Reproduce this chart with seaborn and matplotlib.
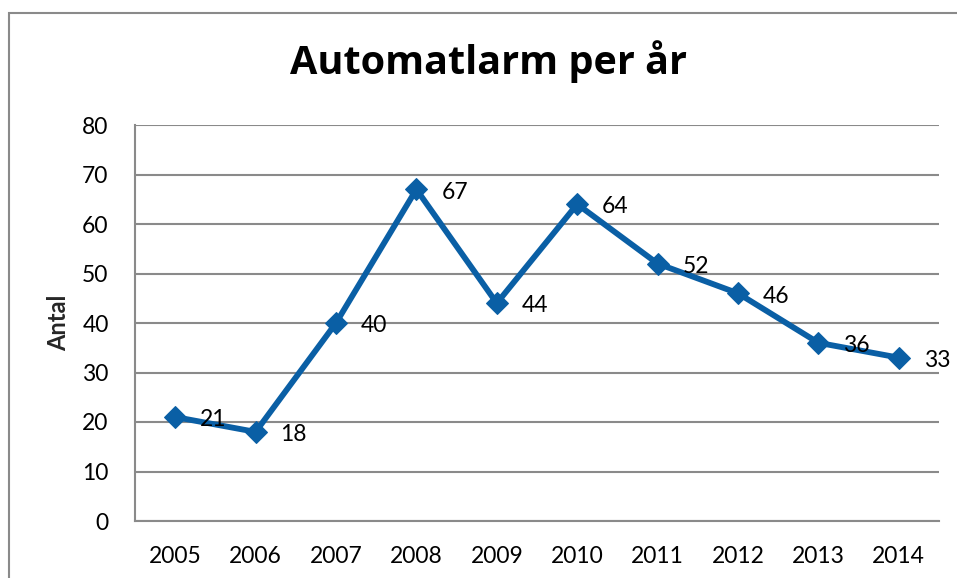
import matplotlib
matplotlib.use("Agg")
import matplotlib.pyplot as plt
import pandas as pd
import seaborn as sns
from matplotlib.patches import Rectangle

years = ["2005", "2006", "2007", "2008", "2009", "2010", "2011", "2012", "2013", "2014"]
alarms = [21, 18, 40, 67, 44, 64, 52, 46, 36, 33]
y_ticks = [0, 10, 20, 30, 40, 50, 60, 70, 80]

df = pd.DataFrame({"year": years, "antal": alarms})

sns.set_style("white")
plt.rcParams["font.family"] = ["Lato", "DejaVu Sans"]

line_color = "#0A5FA5"
grid_color = "#8A8A8A"

fig = plt.figure(figsize=(9.57, 5.78), dpi=100)
ax = fig.add_axes([135 / 957, 57 / 578, (939 - 135) / 957, (521 - 125) / 578])

sns.lineplot(data=df, x="year", y="antal", ax=ax, sort=False,
             color=line_color, linewidth=4.2, marker="D", markersize=11,
             markeredgecolor=line_color, markerfacecolor=line_color)

# data labels to the right of each point
for i, v in enumerate(alarms):
    ax.annotate(str(v), (i, v), xytext=(18, -2), textcoords="offset points",
                ha="left", va="center", fontsize=16.5, color="black")

ax.set_xlim(-0.5, len(years) - 0.5)
ax.set_ylim(0, 80)
ax.set_yticks(y_ticks)
ax.yaxis.grid(True, color=grid_color, linewidth=1.5)
ax.set_axisbelow(True)

for s in ["top", "right"]:
    ax.spines[s].set_visible(False)
for s in ["left", "bottom"]:
    ax.spines[s].set_color(grid_color)
    ax.spines[s].set_linewidth(1.5)

ax.tick_params(axis="both", length=0, labelsize=16.5, colors="black")
ax.tick_params(axis="x", pad=18)
ax.tick_params(axis="y", pad=19)

ax.set_xlabel("")
ax.set_ylabel("Antal", fontsize=17, fontweight="bold")
ax.yaxis.set_label_coords(-(135 - 70) / 804, 0.5)

fig.text(489 / 957, 1 - 74 / 578, "Automatlarm per år", ha="center", va="baseline",
         fontsize=28.5, fontweight="bold", color="black",
         family=["Open Sans", "DejaVu Sans"])

# outer chart border (runs off the right and bottom edges)
fig.patches.append(Rectangle((9 / 957, -0.1), 1.0, 1.1 - 13 / 578,
                             transform=fig.transFigure, fill=False,
                             edgecolor=grid_color, linewidth=1.5))

plt.savefig("out.png", dpi=100)
